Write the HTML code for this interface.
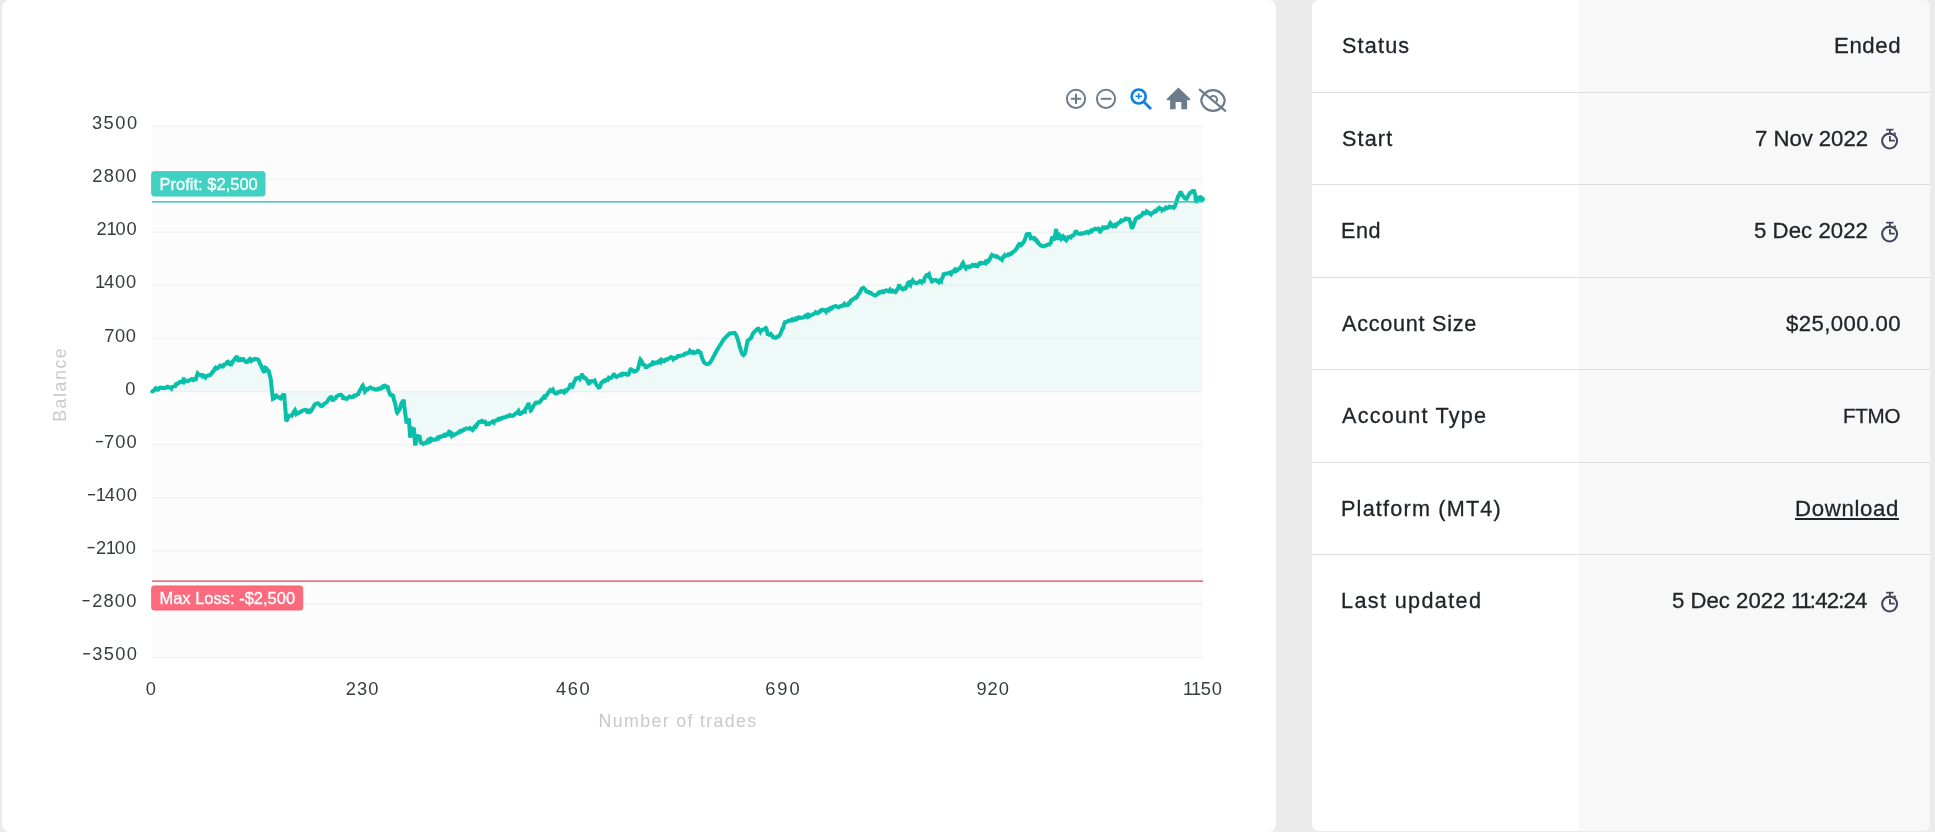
<!DOCTYPE html>
<html><head><meta charset="utf-8"><title>Account</title>
<style>
*{margin:0;padding:0;box-sizing:border-box}
html,body{width:1935px;height:832px;overflow:hidden}
body{background:#ebebeb;font-family:"Liberation Sans",sans-serif;position:relative}
.card1{position:absolute;left:2px;top:0;width:1274px;height:832px;background:#fff;border-radius:8px}
.card2{position:absolute;left:1312px;top:0;width:618px;height:831px;background:#fff;border-radius:7px;overflow:hidden}
.card2 .col{position:absolute;left:267px;top:0;width:351px;height:831px;background:#f8f8f8}
.card2 .div{position:absolute;left:0;width:618px;height:1px;background:#dedede}
.t{-webkit-text-stroke:0.3px #212529;will-change:transform;position:absolute;white-space:nowrap;line-height:1;color:#212529;font-size:21px}
.lab{left:1342px}
.val{right:35px;text-align:right}
.clk{position:absolute;left:1879px}
svg text{font-family:"Liberation Sans",sans-serif}
</style></head><body>
<div class="card1"></div>
<div class="card2"><div class="col"></div>
<div class="div" style="top:91.97px"></div>
<div class="div" style="top:184.42px"></div>
<div class="div" style="top:276.87px"></div>
<div class="div" style="top:369.32px"></div>
<div class="div" style="top:461.77px"></div>
<div class="div" style="top:554.22px"></div>
</div>
<div class="t" id="l0" style="font-size:21.6px;top:35.00px;left:1342.00px;letter-spacing:1.190px">Status</div>
<div class="t" id="v0" style="font-size:22.2px;top:34.70px;right:34.00px;letter-spacing:0.600px"><span>Ended</span></div>
<div class="t" id="l1" style="font-size:21.6px;top:128.00px;left:1342.00px;letter-spacing:1.150px">Start</div>
<div class="t" id="v1" style="font-size:22.2px;top:127.70px;right:67.00px;letter-spacing:-0.050px"><span>7 Nov 2022</span></div>
<svg class="clk" style="top:128.25px" width="22" height="24" viewBox="0 0 22 24"><g fill="none" stroke="#43465a" stroke-linecap="butt"><circle cx="10.6" cy="13.05" r="7.45" stroke-width="2.1"/><path d="M7.1 1.65h7.4" stroke-width="1.7"/><path d="M10.9 1.65v4M10.9 8v4.65h4.9" stroke-width="1.8"/><path d="M15.2 4.6l1.5 1.8" stroke-width="1.6"/></g></svg>
<div class="t" id="l2" style="font-size:21.6px;top:220.00px;left:1341.00px;letter-spacing:0.600px">End</div>
<div class="t" id="v2" style="font-size:22.2px;top:219.70px;right:67.00px;letter-spacing:0.050px"><span>5 Dec 2022</span></div>
<svg class="clk" style="top:221.00px" width="22" height="24" viewBox="0 0 22 24"><g fill="none" stroke="#43465a" stroke-linecap="butt"><circle cx="10.6" cy="13.05" r="7.45" stroke-width="2.1"/><path d="M7.1 1.65h7.4" stroke-width="1.7"/><path d="M10.9 1.65v4M10.9 8v4.65h4.9" stroke-width="1.8"/><path d="M15.2 4.6l1.5 1.8" stroke-width="1.6"/></g></svg>
<div class="t" id="l3" style="font-size:21.6px;top:313.00px;left:1342.00px;letter-spacing:0.759px">Account Size</div>
<div class="t" id="v3" style="font-size:22.2px;top:312.70px;right:34.00px;letter-spacing:0.383px"><span>$25,000.00</span></div>
<div class="t" id="l4" style="font-size:21.6px;top:405.00px;left:1342.00px;letter-spacing:1.241px">Account Type</div>
<div class="t" id="v4" style="font-size:20.6px;top:406.04px;right:35.00px;letter-spacing:-0.283px"><span>FTMO</span></div>
<div class="t" id="l5" style="font-size:21.6px;top:498.00px;left:1341.00px;letter-spacing:1.215px">Platform (MT4)</div>
<div class="t" id="v5" style="font-size:22.2px;top:497.70px;right:36.00px;letter-spacing:0.664px"><span style="text-decoration:underline">Download</span></div>
<div class="t" id="l6" style="font-size:21.6px;top:590.00px;left:1341.00px;letter-spacing:1.373px">Last updated</div>
<div class="t" id="v6a" style="font-size:22.2px;top:589.70px;right:150.00px;letter-spacing:-0.011px">5 Dec 2022</div>
<div class="t" id="v6b" style="font-size:22.2px;top:589.70px;right:68.00px;letter-spacing:-0.814px"><span style="letter-spacing:-2.114px">11</span>:42:24</div>
<svg class="clk" style="top:590.60px" width="22" height="24" viewBox="0 0 22 24"><g fill="none" stroke="#43465a" stroke-linecap="butt"><circle cx="10.6" cy="13.05" r="7.45" stroke-width="2.1"/><path d="M7.1 1.65h7.4" stroke-width="1.7"/><path d="M10.9 1.65v4M10.9 8v4.65h4.9" stroke-width="1.8"/><path d="M15.2 4.6l1.5 1.8" stroke-width="1.6"/></g></svg>
<svg style="position:absolute;left:0;top:0;will-change:transform" width="1300" height="832" viewBox="0 0 1300 832">
<rect x="152" y="126" width="1051" height="531.2" fill="#fcfcfc"/>
<rect x="152" y="125.3" width="1051" height="1.4" fill="#f2f2f2"/>
<rect x="152" y="178.4" width="1051" height="1.4" fill="#f2f2f2"/>
<rect x="152" y="231.5" width="1051" height="1.4" fill="#f2f2f2"/>
<rect x="152" y="284.7" width="1051" height="1.4" fill="#f2f2f2"/>
<rect x="152" y="337.8" width="1051" height="1.4" fill="#f2f2f2"/>
<rect x="152" y="390.9" width="1051" height="1.4" fill="#f2f2f2"/>
<rect x="152" y="444.0" width="1051" height="1.4" fill="#f2f2f2"/>
<rect x="152" y="497.1" width="1051" height="1.4" fill="#f2f2f2"/>
<rect x="152" y="550.3" width="1051" height="1.4" fill="#f2f2f2"/>
<rect x="152" y="603.4" width="1051" height="1.4" fill="#f2f2f2"/>
<rect x="152" y="656.5" width="1051" height="1.4" fill="#f2f2f2"/>
<path d="M152.2,391.5 L153.1,391.0 L154.0,390.4 L154.9,389.3 L155.8,388.2 L156.8,389.0 L157.7,389.8 L157.9,389.8 L158.6,389.1 L159.5,387.8 L160.1,387.6 L161.3,387.5 L162.2,388.2 L163.0,388.3 L164.1,387.9 L165.0,387.9 L165.9,387.5 L166.8,386.8 L167.3,386.7 L167.7,387.4 L168.6,387.5 L169.6,387.5 L170.5,387.4 L171.4,388.4 L171.6,388.0 L172.3,386.9 L173.2,386.6 L174.1,386.4 L174.5,386.3 L175.0,387.1 L175.9,384.2 L176.7,384.2 L177.8,383.4 L178.7,383.1 L179.6,381.9 L180.5,381.9 L181.0,381.8 L181.4,381.6 L182.3,382.1 L183.2,380.1 L184.2,381.3 L184.6,380.5 L185.1,381.3 L186.0,380.7 L186.9,380.9 L187.5,381.1 L188.7,380.6 L189.6,380.2 L190.6,379.8 L191.5,379.3 L191.8,379.1 L192.4,379.4 L193.3,380.1 L194.2,379.3 L195.1,379.9 L195.4,380.5 L196.0,378.7 L196.9,375.5 L197.6,373.5 L198.8,374.7 L199.7,374.8 L200.5,375.3 L201.5,375.2 L202.4,376.3 L203.3,375.5 L204.2,376.4 L205.2,377.3 L205.5,376.5 L206.1,376.7 L207.0,375.7 L207.9,375.7 L208.8,375.3 L209.7,375.2 L210.6,374.8 L211.6,373.5 L212.5,371.9 L213.4,371.5 L214.3,369.4 L215.2,368.0 L215.6,367.6 L216.1,368.2 L217.0,368.5 L217.8,368.0 L218.9,367.1 L219.8,366.0 L220.0,366.2 L220.7,365.9 L221.6,365.7 L222.5,367.5 L223.4,365.7 L223.6,365.1 L224.3,364.3 L225.2,364.2 L226.2,363.7 L227.1,362.1 L227.9,361.8 L228.9,363.5 L229.8,363.4 L230.1,363.8 L230.7,363.0 L231.6,363.7 L232.6,362.0 L232.9,361.4 L233.5,360.6 L234.4,359.5 L235.3,358.0 L236.2,357.5 L236.6,356.8 L237.1,356.0 L238.0,360.1 L238.9,360.2 L239.4,360.4 L239.9,360.3 L240.8,359.2 L241.7,359.9 L242.6,359.3 L243.5,359.2 L243.8,359.7 L244.4,360.4 L245.2,361.4 L246.2,361.9 L247.2,361.9 L248.1,361.5 L249.0,359.6 L249.9,359.0 L250.8,360.2 L251.0,359.7 L251.7,360.4 L252.6,359.8 L253.6,359.8 L254.5,358.9 L255.4,358.8 L256.0,359.0 L257.2,359.5 L258.1,359.5 L258.9,360.6 L259.9,363.7 L260.9,365.0 L261.8,367.8 L262.5,368.9 L263.6,371.5 L264.5,372.2 L264.7,372.5 L265.4,367.8 L266.3,368.3 L267.2,369.5 L268.2,370.0 L268.3,369.8 L269.1,372.3 L270.0,376.4 L270.5,377.5 L270.9,380.2 L271.8,389.0 L272.7,397.2 L272.9,398.8 L273.6,398.4 L274.6,397.9 L275.5,396.0 L276.2,395.5 L277.3,396.8 L278.2,397.0 L279.1,397.2 L280.0,398.3 L280.6,398.5 L281.9,396.5 L282.8,395.1 L283.7,394.6 L284.2,393.7 L284.6,400.2 L285.5,410.5 L286.3,421.3 L287.3,419.4 L288.3,417.2 L288.5,416.4 L289.2,415.8 L290.1,415.8 L291.0,415.4 L291.9,415.0 L292.1,415.2 L292.8,413.8 L293.7,412.0 L294.6,410.6 L295.0,410.1 L295.6,411.4 L296.4,414.0 L297.4,413.3 L298.3,413.1 L299.2,412.7 L300.1,411.9 L301.0,411.8 L301.9,411.0 L302.9,410.5 L303.8,410.1 L304.4,410.0 L305.6,409.9 L306.5,410.2 L307.4,411.9 L308.4,411.8 L309.3,410.8 L310.1,411.9 L311.1,411.0 L312.0,409.5 L312.9,407.8 L313.8,406.4 L314.7,404.6 L315.6,404.2 L316.6,403.1 L316.6,402.2 L317.5,403.3 L318.4,403.6 L319.3,404.3 L320.2,405.6 L321.1,405.6 L321.7,406.1 L323.0,405.4 L323.9,404.0 L324.8,403.4 L325.7,402.9 L326.6,402.3 L327.5,401.2 L328.4,399.7 L329.4,398.3 L330.3,397.7 L331.0,396.2 L332.1,398.4 L333.0,401.3 L333.2,400.2 L333.9,399.1 L334.8,398.6 L335.7,398.1 L336.6,396.3 L337.5,395.9 L338.5,395.4 L339.4,395.0 L340.3,394.7 L341.2,394.8 L342.1,395.8 L342.6,395.1 L343.0,398.0 L343.3,399.5 L344.0,398.3 L344.9,398.3 L345.8,398.4 L346.7,398.9 L347.6,397.9 L348.5,397.3 L349.4,396.6 L350.4,397.4 L351.3,397.2 L352.0,397.0 L353.1,396.8 L354.0,395.6 L354.9,396.0 L355.8,395.6 L356.7,394.8 L357.6,393.9 L357.7,395.2 L358.6,393.2 L359.5,391.0 L360.4,389.8 L361.3,388.1 L362.2,386.1 L362.8,385.4 L364.1,388.5 L364.9,391.5 L365.9,390.4 L366.8,389.2 L367.7,389.3 L368.6,388.5 L369.5,387.8 L370.0,387.6 L370.4,387.4 L371.4,388.4 L372.3,388.6 L373.2,388.8 L374.1,388.8 L375.0,389.5 L375.9,389.7 L376.8,389.6 L377.7,388.9 L378.7,389.3 L379.6,388.7 L380.5,388.0 L380.8,388.4 L381.4,388.4 L382.3,387.6 L383.2,386.3 L384.1,386.9 L385.1,385.8 L386.0,386.4 L386.6,386.4 L387.8,387.1 L388.7,391.0 L389.6,393.0 L390.2,394.7 L391.4,395.3 L392.4,395.1 L393.1,395.7 L394.2,400.9 L395.1,403.0 L395.2,403.1 L396.0,407.9 L396.9,412.3 L397.2,412.7 L397.8,411.8 L398.8,410.3 L399.7,409.3 L400.1,408.3 L400.6,405.8 L401.5,403.6 L401.5,403.2 L402.4,401.8 L403.3,400.8 L403.7,399.7 L404.2,405.3 L405.1,412.4 L406.1,419.3 L406.6,423.6 L407.0,421.9 L407.9,420.8 L408.8,418.3 L408.8,418.7 L409.7,431.1 L410.2,437.7 L410.6,435.3 L411.5,429.7 L411.6,428.6 L412.4,428.3 L413.4,428.4 L413.8,427.7 L414.3,433.4 L415.2,445.7 L415.2,445.3 L416.1,441.8 L417.0,437.4 L417.4,436.1 L417.9,436.1 L418.8,436.5 L419.6,436.7 L420.7,441.8 L421.0,443.9 L421.6,443.3 L422.5,443.2 L423.4,444.0 L424.3,443.4 L425.2,443.0 L425.3,442.9 L426.1,442.3 L427.1,442.6 L428.0,440.5 L428.9,441.2 L429.8,439.8 L430.7,441.0 L431.6,440.1 L431.8,439.2 L432.5,439.6 L433.4,439.5 L434.4,439.8 L435.3,439.8 L436.2,438.9 L436.2,439.9 L437.1,438.2 L438.0,438.7 L438.9,437.1 L439.8,436.7 L440.8,437.0 L441.7,436.3 L442.6,436.0 L443.5,435.3 L444.4,437.2 L445.3,434.9 L446.2,435.1 L447.0,434.2 L448.1,434.4 L449.0,431.7 L449.1,431.6 L449.9,432.0 L450.8,432.6 L451.7,435.5 L452.6,434.3 L453.5,435.2 L454.4,434.7 L455.4,434.3 L456.3,433.7 L457.2,433.4 L458.1,432.6 L459.0,432.6 L459.2,432.2 L459.9,431.1 L460.8,430.7 L461.8,431.3 L462.7,430.4 L463.6,430.2 L464.3,429.2 L465.4,428.9 L466.3,428.6 L467.2,428.6 L468.1,428.7 L469.1,428.6 L469.3,428.6 L470.0,428.1 L470.9,428.9 L471.8,429.5 L472.7,429.3 L472.9,429.6 L473.6,428.8 L474.5,426.8 L475.4,426.2 L476.4,425.1 L476.6,425.5 L477.3,424.2 L478.2,422.9 L479.1,421.8 L480.0,421.7 L480.2,420.8 L480.9,421.6 L481.8,420.9 L482.8,421.9 L483.7,421.8 L484.6,422.2 L485.2,421.9 L486.4,424.2 L487.3,423.9 L487.4,423.6 L488.2,423.5 L489.1,424.0 L490.1,423.1 L491.0,422.6 L491.9,422.2 L492.8,421.4 L493.7,422.3 L493.9,421.3 L494.6,421.2 L495.5,420.8 L496.4,420.4 L497.4,419.9 L498.3,419.0 L499.2,419.6 L500.1,418.8 L501.0,418.8 L501.1,418.3 L501.9,418.3 L502.8,417.7 L503.8,417.6 L504.7,417.2 L505.6,417.2 L506.5,416.4 L506.8,416.3 L507.4,416.4 L508.3,415.9 L509.2,416.0 L510.1,415.1 L511.1,415.8 L512.0,416.1 L512.6,415.8 L513.8,415.2 L514.7,414.5 L515.6,413.4 L516.5,412.9 L517.5,412.8 L517.7,412.0 L518.4,411.1 L519.3,413.6 L519.8,413.9 L520.2,413.9 L521.1,413.3 L522.0,412.9 L522.9,411.8 L523.8,411.3 L524.8,411.6 L524.9,410.4 L525.7,408.8 L526.6,407.2 L527.5,405.7 L528.4,403.1 L528.5,403.3 L529.3,406.6 L530.2,409.2 L530.7,410.6 L531.1,410.3 L532.1,408.4 L533.0,407.0 L533.9,405.0 L534.8,404.0 L535.7,402.7 L536.6,402.4 L537.5,402.4 L538.5,403.8 L538.6,402.6 L539.4,402.4 L540.3,401.5 L541.2,400.1 L542.1,399.2 L542.9,398.4 L543.9,396.9 L544.9,397.4 L545.8,394.7 L545.8,396.3 L546.7,395.2 L547.6,393.7 L548.5,392.2 L549.4,391.2 L550.3,390.0 L551.2,390.7 L552.1,391.1 L553.0,389.9 L554.0,392.2 L554.9,393.2 L555.8,394.3 L555.9,393.6 L556.7,393.6 L557.6,392.4 L558.5,392.5 L559.5,391.7 L560.4,391.8 L561.3,391.1 L561.7,391.0 L562.2,391.2 L563.1,391.5 L564.0,392.4 L564.9,391.1 L565.3,391.7 L565.9,391.5 L566.8,390.2 L567.7,389.3 L568.6,388.3 L568.9,388.0 L569.5,387.2 L570.4,384.6 L571.0,383.3 L571.8,388.1 L572.2,387.2 L573.1,385.0 L574.1,382.1 L575.0,380.5 L575.9,378.2 L576.1,377.2 L576.8,378.0 L577.7,378.0 L578.6,378.3 L579.5,378.7 L579.7,378.9 L580.5,376.6 L581.4,376.4 L581.9,375.0 L582.3,375.0 L583.2,376.3 L584.1,378.0 L585.0,378.0 L585.9,378.5 L586.2,379.1 L586.9,380.1 L587.8,381.8 L588.7,383.5 L589.1,383.5 L589.6,382.9 L590.5,381.2 L591.4,381.4 L592.3,381.0 L593.2,381.2 L594.2,381.7 L594.8,381.0 L596.0,383.6 L596.9,385.5 L597.8,386.2 L598.7,387.8 L599.2,388.5 L599.6,387.2 L600.5,385.5 L601.3,382.6 L602.4,382.1 L603.3,381.1 L604.2,380.5 L605.1,381.0 L606.0,379.9 L606.4,379.6 L606.9,379.5 L607.9,379.8 L608.8,377.7 L609.7,378.2 L610.6,377.9 L610.7,378.0 L611.5,377.7 L612.4,376.2 L613.3,375.5 L613.6,374.7 L614.2,374.5 L615.2,375.7 L616.1,376.8 L616.5,377.0 L617.0,376.6 L617.9,376.1 L618.8,375.5 L619.7,375.2 L620.6,374.6 L620.8,375.1 L621.5,375.3 L622.5,374.7 L623.4,373.7 L624.3,373.8 L625.2,374.0 L625.9,373.9 L627.0,374.9 L627.9,375.3 L628.0,375.6 L628.9,373.5 L629.8,370.9 L630.2,369.8 L630.7,369.4 L631.6,369.8 L632.5,370.6 L633.4,371.2 L633.8,371.4 L634.3,371.0 L635.0,371.5 L636.2,370.9 L637.1,370.2 L637.9,369.0 L638.9,365.3 L639.8,361.5 L640.4,359.6 L641.6,361.1 L642.5,363.6 L643.0,364.6 L643.5,364.6 L644.4,365.0 L645.3,366.1 L646.2,368.1 L646.6,367.2 L647.1,367.0 L648.0,366.5 L648.9,365.5 L649.9,365.2 L650.8,364.8 L651.6,364.1 L652.6,362.7 L653.5,363.6 L654.4,362.6 L655.3,363.0 L656.2,362.7 L657.2,363.0 L658.1,361.7 L658.9,361.9 L659.9,360.7 L660.8,361.9 L661.7,360.1 L662.6,360.9 L663.5,360.7 L664.5,361.0 L665.4,359.7 L666.3,359.4 L667.2,359.6 L667.5,359.6 L668.1,358.8 L669.0,358.5 L669.9,357.9 L670.9,357.0 L671.8,356.1 L671.8,356.2 L672.7,358.2 L673.3,359.3 L674.5,358.3 L675.4,358.0 L676.3,357.8 L677.2,356.9 L677.6,356.1 L678.2,356.0 L679.1,355.9 L680.0,356.0 L680.9,355.6 L681.8,355.4 L682.7,355.3 L683.4,355.3 L684.6,353.9 L685.5,353.4 L686.4,353.7 L687.3,353.3 L688.2,352.6 L689.1,352.5 L689.9,350.9 L691.0,352.3 L691.9,351.9 L692.8,352.7 L693.5,352.0 L694.6,352.7 L695.5,352.7 L696.4,352.1 L697.3,351.2 L698.2,351.7 L698.5,351.1 L699.2,351.4 L700.1,352.3 L700.7,352.9 L701.9,357.3 L702.1,358.0 L702.8,359.7 L703.6,361.6 L704.6,362.8 L705.3,363.5 L706.5,363.9 L707.2,364.1 L708.3,363.8 L709.1,363.5 L710.1,362.4 L710.8,361.6 L712.0,359.5 L712.9,357.8 L712.9,357.7 L713.8,356.1 L714.7,354.4 L715.6,352.7 L716.5,351.0 L716.6,350.8 L717.4,349.5 L718.3,348.0 L719.2,346.5 L720.2,345.0 L721.1,343.6 L722.0,342.1 L722.9,340.6 L723.8,339.2 L724.7,338.3 L725.6,337.3 L726.6,336.4 L727.5,335.5 L728.4,334.6 L729.3,333.7 L729.5,333.5 L730.2,333.4 L731.1,333.3 L732.0,333.2 L733.0,333.0 L733.9,332.9 L734.6,332.8 L735.7,334.4 L736.5,335.6 L737.5,338.7 L738.2,340.7 L739.3,345.1 L739.9,347.2 L740.3,348.4 L741.1,351.1 L742.1,353.7 L742.2,354.0 L743.0,354.7 L743.4,355.1 L743.9,354.7 L744.5,354.2 L745.6,351.1 L746.6,345.7 L747.6,340.9 L747.6,340.7 L748.5,340.0 L749.4,339.3 L750.3,338.5 L751.2,337.8 L752.1,335.6 L753.0,333.4 L753.3,332.8 L754.0,332.2 L754.9,331.4 L755.8,330.7 L756.7,329.4 L757.6,328.9 L758.4,328.6 L759.4,330.0 L760.3,331.5 L760.6,330.8 L761.3,330.8 L762.2,329.9 L763.1,329.6 L764.0,329.6 L764.9,328.6 L765.8,327.9 L766.3,328.5 L766.7,330.1 L767.6,334.0 L767.8,334.0 L768.6,334.3 L769.5,334.8 L770.4,334.2 L771.3,334.8 L771.4,334.6 L772.2,335.6 L773.1,337.2 L774.0,337.0 L775.0,337.3 L775.7,337.9 L776.8,337.3 L777.7,336.5 L778.6,336.4 L779.3,335.5 L780.4,333.8 L781.4,331.6 L782.3,328.6 L783.2,328.1 L784.1,324.1 L784.4,323.4 L785.0,322.1 L785.9,322.0 L786.8,321.8 L787.7,321.5 L788.6,320.3 L788.7,321.4 L789.6,320.4 L790.5,320.3 L791.4,320.5 L792.3,319.4 L793.2,320.2 L794.1,319.5 L795.0,319.7 L796.0,318.4 L796.9,319.0 L797.8,317.9 L798.7,317.4 L799.6,317.9 L800.2,317.6 L801.4,317.7 L802.4,317.8 L803.3,317.4 L804.2,317.1 L805.1,315.9 L806.0,316.3 L806.9,315.2 L807.8,316.5 L808.7,315.1 L809.6,316.0 L810.3,315.3 L811.5,315.0 L812.4,314.5 L813.3,314.2 L814.2,313.6 L815.1,313.0 L816.0,313.0 L816.1,312.4 L817.0,312.8 L817.9,313.0 L818.8,312.3 L819.7,311.9 L820.6,310.4 L821.5,310.6 L822.4,309.7 L823.3,310.0 L824.3,310.4 L825.2,310.1 L826.1,311.6 L826.2,311.4 L827.0,310.8 L827.9,309.7 L828.8,310.2 L829.1,309.3 L829.7,308.6 L830.7,308.0 L831.6,308.7 L832.5,307.9 L833.4,306.7 L834.3,306.5 L834.8,306.4 L835.2,306.1 L836.1,306.0 L837.0,306.6 L837.7,307.1 L838.9,307.4 L839.8,306.6 L840.7,305.9 L841.6,305.9 L842.5,305.9 L843.4,304.7 L844.4,303.7 L844.9,304.3 L845.3,304.7 L846.2,305.2 L847.1,306.1 L847.1,306.0 L848.0,304.8 L848.9,303.1 L849.8,303.1 L850.7,300.6 L851.7,300.5 L852.6,299.6 L852.9,299.2 L853.5,298.8 L854.4,298.5 L855.3,297.5 L856.2,297.7 L857.1,296.6 L857.2,296.6 L858.0,295.1 L859.0,293.4 L859.9,292.6 L860.8,290.1 L861.5,288.8 L862.6,288.1 L863.5,287.9 L863.7,288.1 L864.4,288.7 L865.4,289.7 L866.3,291.5 L866.6,291.5 L867.2,291.8 L868.1,292.3 L869.0,292.0 L869.9,292.8 L870.8,292.9 L870.9,293.2 L871.8,293.8 L872.7,294.4 L873.6,294.9 L874.5,295.2 L875.2,295.5 L876.3,294.8 L877.2,294.1 L878.1,293.8 L879.0,292.3 L880.0,292.5 L880.1,292.1 L880.9,292.0 L881.8,291.7 L882.7,291.2 L883.6,292.2 L884.5,291.6 L885.4,290.8 L886.4,290.3 L887.3,291.0 L887.3,290.9 L888.2,291.2 L889.1,291.3 L890.0,289.9 L890.9,291.3 L891.8,291.6 L892.8,290.6 L893.7,291.3 L894.6,291.6 L895.5,292.2 L896.0,291.6 L896.4,291.0 L897.3,288.9 L898.2,288.5 L899.1,284.5 L899.6,285.9 L900.0,286.7 L901.0,289.0 L901.0,289.4 L901.9,288.5 L902.8,289.3 L903.7,288.9 L904.6,288.1 L905.3,288.6 L906.5,287.2 L907.4,284.5 L908.3,282.5 L908.9,282.3 L910.1,284.6 L910.4,285.0 L911.0,283.1 L911.9,281.4 L912.6,280.4 L913.8,282.4 L914.7,283.1 L914.7,283.7 L915.6,282.9 L916.5,283.3 L917.4,282.7 L918.3,282.6 L919.2,281.7 L920.1,281.8 L921.1,282.3 L921.2,281.2 L922.0,281.5 L922.9,281.8 L923.4,282.6 L923.8,281.5 L924.7,277.6 L924.8,277.4 L925.6,276.6 L926.5,275.4 L927.5,275.9 L928.4,274.5 L928.9,274.1 L929.3,275.7 L930.2,278.1 L931.1,279.4 L932.0,281.6 L932.9,281.3 L933.8,280.6 L934.8,279.4 L934.9,280.0 L935.7,279.9 L936.6,280.7 L937.5,281.4 L938.4,280.9 L939.2,282.1 L940.2,280.8 L941.1,281.4 L941.4,279.2 L942.1,278.6 L943.0,276.4 L943.6,274.2 L944.8,273.9 L945.7,273.6 L946.6,273.7 L947.5,273.6 L948.5,273.5 L949.4,272.5 L950.3,272.5 L951.2,273.9 L952.1,272.6 L952.2,271.8 L953.0,271.1 L953.9,271.0 L954.8,269.7 L955.8,270.9 L956.7,269.7 L957.6,270.0 L958.5,269.1 L959.4,268.3 L960.2,268.3 L961.2,266.6 L962.1,264.2 L963.0,262.9 L964.0,265.0 L964.9,267.0 L965.2,267.5 L965.8,268.3 L966.7,266.7 L967.6,266.9 L968.5,266.5 L969.5,267.2 L970.4,266.6 L971.3,266.0 L972.2,265.1 L973.1,265.7 L973.9,265.4 L974.9,264.9 L975.8,266.0 L976.8,266.2 L977.5,266.2 L978.6,263.1 L978.9,263.6 L979.5,263.2 L980.4,263.8 L981.3,262.9 L982.2,263.2 L983.1,262.9 L984.1,262.8 L985.0,263.1 L985.4,262.3 L985.9,263.0 L986.8,261.6 L987.7,261.4 L988.6,259.4 L989.0,260.4 L989.5,259.7 L990.5,257.4 L991.4,255.9 L991.9,255.2 L992.3,255.6 L993.2,255.5 L994.1,255.7 L994.8,255.8 L995.9,256.8 L996.9,256.4 L997.8,257.2 L998.7,257.5 L999.6,258.3 L1000.5,258.8 L1001.4,259.0 L1002.0,259.7 L1003.2,257.2 L1004.1,256.0 L1004.2,256.3 L1005.1,256.0 L1006.0,255.9 L1006.9,255.3 L1007.8,254.6 L1008.7,254.9 L1009.6,254.1 L1010.5,254.2 L1011.5,253.1 L1012.1,253.2 L1013.3,251.7 L1014.2,251.1 L1015.1,250.6 L1016.0,249.1 L1016.4,248.9 L1016.9,248.2 L1017.9,245.8 L1018.8,245.5 L1019.3,244.2 L1019.7,244.3 L1020.6,245.5 L1020.8,245.5 L1021.5,243.9 L1022.4,243.8 L1023.3,242.2 L1024.2,241.4 L1024.4,240.6 L1025.2,238.8 L1026.1,236.0 L1026.5,234.5 L1027.0,234.2 L1027.9,234.4 L1028.8,234.0 L1029.4,234.0 L1030.6,237.3 L1030.8,238.3 L1031.5,238.1 L1032.5,238.0 L1033.4,238.7 L1033.7,238.0 L1034.3,237.9 L1035.2,239.1 L1036.1,240.2 L1037.0,241.6 L1037.3,241.2 L1037.9,242.1 L1038.8,243.6 L1039.8,244.6 L1040.7,245.7 L1040.9,246.7 L1041.6,245.8 L1042.5,246.2 L1043.4,246.4 L1044.3,245.9 L1045.2,245.8 L1046.2,245.3 L1047.1,244.9 L1048.0,244.6 L1048.9,244.6 L1048.9,244.5 L1049.8,243.6 L1050.7,242.8 L1051.0,241.8 L1051.6,239.2 L1052.5,236.6 L1053.5,239.4 L1053.9,240.4 L1054.4,237.4 L1055.3,234.1 L1056.1,228.9 L1057.1,236.9 L1057.5,240.1 L1058.0,235.5 L1058.3,232.7 L1058.9,234.8 L1059.8,235.9 L1060.4,237.9 L1060.8,238.5 L1061.7,236.7 L1062.6,236.1 L1063.5,237.9 L1064.0,237.5 L1064.4,237.4 L1065.3,239.6 L1066.2,240.4 L1067.2,239.1 L1068.1,238.0 L1069.0,235.9 L1069.1,237.3 L1069.9,237.0 L1070.8,237.4 L1071.7,236.0 L1072.6,236.2 L1072.7,236.5 L1073.5,235.3 L1074.5,233.7 L1075.4,232.0 L1076.0,230.6 L1077.2,233.0 L1078.1,233.4 L1078.5,234.8 L1079.0,234.1 L1079.9,234.1 L1080.8,233.5 L1081.8,233.8 L1082.7,233.2 L1083.6,233.3 L1084.5,233.1 L1084.9,232.7 L1085.4,232.8 L1086.3,232.3 L1087.2,232.5 L1088.2,230.7 L1088.7,232.0 L1089.1,232.6 L1090.0,231.8 L1090.9,230.7 L1091.8,231.3 L1092.7,230.1 L1093.6,229.6 L1094.5,229.1 L1095.5,228.7 L1096.4,229.2 L1097.3,229.2 L1097.3,227.5 L1098.2,228.6 L1099.1,229.7 L1100.0,231.7 L1100.2,231.7 L1100.9,230.6 L1101.9,229.1 L1102.4,228.0 L1102.8,227.6 L1103.7,228.4 L1104.6,228.2 L1105.5,227.3 L1106.4,227.7 L1107.3,227.3 L1108.1,227.2 L1109.2,225.6 L1110.1,223.3 L1110.3,223.0 L1111.0,223.8 L1111.7,225.8 L1112.8,226.4 L1113.7,226.0 L1114.6,225.1 L1115.5,226.0 L1116.1,224.9 L1116.5,225.1 L1117.4,224.1 L1118.3,223.0 L1119.2,222.6 L1120.1,222.3 L1121.0,220.6 L1121.8,221.1 L1122.9,220.5 L1123.8,220.1 L1124.7,219.6 L1125.6,218.6 L1126.5,218.9 L1127.4,218.7 L1127.6,218.7 L1128.3,219.3 L1129.2,219.2 L1129.8,220.7 L1130.2,221.9 L1131.1,225.4 L1131.9,228.7 L1132.9,226.3 L1133.8,224.2 L1134.7,221.7 L1135.5,219.1 L1136.5,218.1 L1137.5,217.5 L1138.4,217.7 L1139.3,216.4 L1140.2,216.5 L1141.1,215.8 L1142.0,214.9 L1143.0,213.0 L1143.9,213.3 L1144.8,214.4 L1144.9,214.0 L1145.7,213.5 L1146.6,211.4 L1147.5,211.9 L1147.8,212.1 L1148.4,212.7 L1149.3,213.3 L1150.2,214.0 L1150.7,214.4 L1151.2,213.3 L1152.1,213.3 L1153.0,212.7 L1153.9,212.0 L1154.8,211.0 L1155.7,211.6 L1156.6,210.8 L1157.6,209.2 L1158.5,209.1 L1159.3,207.9 L1160.3,208.4 L1161.2,209.1 L1162.1,209.6 L1162.2,210.0 L1163.0,209.3 L1164.0,209.5 L1164.9,208.7 L1165.8,207.6 L1166.7,208.4 L1167.6,208.0 L1168.5,207.5 L1169.4,206.7 L1170.3,207.3 L1170.9,206.9 L1172.2,207.2 L1173.1,206.9 L1174.0,207.6 L1174.5,206.8 L1174.9,206.1 L1175.8,203.6 L1176.7,200.9 L1177.7,197.7 L1178.1,196.4 L1178.6,196.1 L1179.5,194.0 L1180.4,192.3 L1180.7,191.7 L1181.3,193.0 L1182.2,194.4 L1183.1,196.2 L1184.0,197.1 L1185.0,198.4 L1185.9,199.2 L1186.0,200.1 L1186.8,198.2 L1187.7,196.5 L1188.6,195.2 L1189.5,193.9 L1189.6,193.1 L1190.4,192.5 L1191.3,192.3 L1192.3,191.2 L1193.2,190.4 L1193.5,189.7 L1194.1,191.2 L1195.0,194.4 L1195.4,196.1 L1195.9,201.2 L1196.1,202.8 L1196.8,201.1 L1197.7,200.4 L1198.7,197.8 L1199.6,196.9 L1199.7,196.1 L1200.5,197.3 L1201.4,197.9 L1202.3,198.8 L1202.3,391.7 L152.2,391.7 Z" fill="#08bfa9" fill-opacity="0.05"/>
<path d="M152.2,391.5 L153.1,391.0 L154.0,390.4 L154.9,389.3 L155.8,388.2 L156.8,389.0 L157.7,389.8 L157.9,389.8 L158.6,389.1 L159.5,387.8 L160.1,387.6 L161.3,387.5 L162.2,388.2 L163.0,388.3 L164.1,387.9 L165.0,387.9 L165.9,387.5 L166.8,386.8 L167.3,386.7 L167.7,387.4 L168.6,387.5 L169.6,387.5 L170.5,387.4 L171.4,388.4 L171.6,388.0 L172.3,386.9 L173.2,386.6 L174.1,386.4 L174.5,386.3 L175.0,387.1 L175.9,384.2 L176.7,384.2 L177.8,383.4 L178.7,383.1 L179.6,381.9 L180.5,381.9 L181.0,381.8 L181.4,381.6 L182.3,382.1 L183.2,380.1 L184.2,381.3 L184.6,380.5 L185.1,381.3 L186.0,380.7 L186.9,380.9 L187.5,381.1 L188.7,380.6 L189.6,380.2 L190.6,379.8 L191.5,379.3 L191.8,379.1 L192.4,379.4 L193.3,380.1 L194.2,379.3 L195.1,379.9 L195.4,380.5 L196.0,378.7 L196.9,375.5 L197.6,373.5 L198.8,374.7 L199.7,374.8 L200.5,375.3 L201.5,375.2 L202.4,376.3 L203.3,375.5 L204.2,376.4 L205.2,377.3 L205.5,376.5 L206.1,376.7 L207.0,375.7 L207.9,375.7 L208.8,375.3 L209.7,375.2 L210.6,374.8 L211.6,373.5 L212.5,371.9 L213.4,371.5 L214.3,369.4 L215.2,368.0 L215.6,367.6 L216.1,368.2 L217.0,368.5 L217.8,368.0 L218.9,367.1 L219.8,366.0 L220.0,366.2 L220.7,365.9 L221.6,365.7 L222.5,367.5 L223.4,365.7 L223.6,365.1 L224.3,364.3 L225.2,364.2 L226.2,363.7 L227.1,362.1 L227.9,361.8 L228.9,363.5 L229.8,363.4 L230.1,363.8 L230.7,363.0 L231.6,363.7 L232.6,362.0 L232.9,361.4 L233.5,360.6 L234.4,359.5 L235.3,358.0 L236.2,357.5 L236.6,356.8 L237.1,356.0 L238.0,360.1 L238.9,360.2 L239.4,360.4 L239.9,360.3 L240.8,359.2 L241.7,359.9 L242.6,359.3 L243.5,359.2 L243.8,359.7 L244.4,360.4 L245.2,361.4 L246.2,361.9 L247.2,361.9 L248.1,361.5 L249.0,359.6 L249.9,359.0 L250.8,360.2 L251.0,359.7 L251.7,360.4 L252.6,359.8 L253.6,359.8 L254.5,358.9 L255.4,358.8 L256.0,359.0 L257.2,359.5 L258.1,359.5 L258.9,360.6 L259.9,363.7 L260.9,365.0 L261.8,367.8 L262.5,368.9 L263.6,371.5 L264.5,372.2 L264.7,372.5 L265.4,367.8 L266.3,368.3 L267.2,369.5 L268.2,370.0 L268.3,369.8 L269.1,372.3 L270.0,376.4 L270.5,377.5 L270.9,380.2 L271.8,389.0 L272.7,397.2 L272.9,398.8 L273.6,398.4 L274.6,397.9 L275.5,396.0 L276.2,395.5 L277.3,396.8 L278.2,397.0 L279.1,397.2 L280.0,398.3 L280.6,398.5 L281.9,396.5 L282.8,395.1 L283.7,394.6 L284.2,393.7 L284.6,400.2 L285.5,410.5 L286.3,421.3 L287.3,419.4 L288.3,417.2 L288.5,416.4 L289.2,415.8 L290.1,415.8 L291.0,415.4 L291.9,415.0 L292.1,415.2 L292.8,413.8 L293.7,412.0 L294.6,410.6 L295.0,410.1 L295.6,411.4 L296.4,414.0 L297.4,413.3 L298.3,413.1 L299.2,412.7 L300.1,411.9 L301.0,411.8 L301.9,411.0 L302.9,410.5 L303.8,410.1 L304.4,410.0 L305.6,409.9 L306.5,410.2 L307.4,411.9 L308.4,411.8 L309.3,410.8 L310.1,411.9 L311.1,411.0 L312.0,409.5 L312.9,407.8 L313.8,406.4 L314.7,404.6 L315.6,404.2 L316.6,403.1 L316.6,402.2 L317.5,403.3 L318.4,403.6 L319.3,404.3 L320.2,405.6 L321.1,405.6 L321.7,406.1 L323.0,405.4 L323.9,404.0 L324.8,403.4 L325.7,402.9 L326.6,402.3 L327.5,401.2 L328.4,399.7 L329.4,398.3 L330.3,397.7 L331.0,396.2 L332.1,398.4 L333.0,401.3 L333.2,400.2 L333.9,399.1 L334.8,398.6 L335.7,398.1 L336.6,396.3 L337.5,395.9 L338.5,395.4 L339.4,395.0 L340.3,394.7 L341.2,394.8 L342.1,395.8 L342.6,395.1 L343.0,398.0 L343.3,399.5 L344.0,398.3 L344.9,398.3 L345.8,398.4 L346.7,398.9 L347.6,397.9 L348.5,397.3 L349.4,396.6 L350.4,397.4 L351.3,397.2 L352.0,397.0 L353.1,396.8 L354.0,395.6 L354.9,396.0 L355.8,395.6 L356.7,394.8 L357.6,393.9 L357.7,395.2 L358.6,393.2 L359.5,391.0 L360.4,389.8 L361.3,388.1 L362.2,386.1 L362.8,385.4 L364.1,388.5 L364.9,391.5 L365.9,390.4 L366.8,389.2 L367.7,389.3 L368.6,388.5 L369.5,387.8 L370.0,387.6 L370.4,387.4 L371.4,388.4 L372.3,388.6 L373.2,388.8 L374.1,388.8 L375.0,389.5 L375.9,389.7 L376.8,389.6 L377.7,388.9 L378.7,389.3 L379.6,388.7 L380.5,388.0 L380.8,388.4 L381.4,388.4 L382.3,387.6 L383.2,386.3 L384.1,386.9 L385.1,385.8 L386.0,386.4 L386.6,386.4 L387.8,387.1 L388.7,391.0 L389.6,393.0 L390.2,394.7 L391.4,395.3 L392.4,395.1 L393.1,395.7 L394.2,400.9 L395.1,403.0 L395.2,403.1 L396.0,407.9 L396.9,412.3 L397.2,412.7 L397.8,411.8 L398.8,410.3 L399.7,409.3 L400.1,408.3 L400.6,405.8 L401.5,403.6 L401.5,403.2 L402.4,401.8 L403.3,400.8 L403.7,399.7 L404.2,405.3 L405.1,412.4 L406.1,419.3 L406.6,423.6 L407.0,421.9 L407.9,420.8 L408.8,418.3 L408.8,418.7 L409.7,431.1 L410.2,437.7 L410.6,435.3 L411.5,429.7 L411.6,428.6 L412.4,428.3 L413.4,428.4 L413.8,427.7 L414.3,433.4 L415.2,445.7 L415.2,445.3 L416.1,441.8 L417.0,437.4 L417.4,436.1 L417.9,436.1 L418.8,436.5 L419.6,436.7 L420.7,441.8 L421.0,443.9 L421.6,443.3 L422.5,443.2 L423.4,444.0 L424.3,443.4 L425.2,443.0 L425.3,442.9 L426.1,442.3 L427.1,442.6 L428.0,440.5 L428.9,441.2 L429.8,439.8 L430.7,441.0 L431.6,440.1 L431.8,439.2 L432.5,439.6 L433.4,439.5 L434.4,439.8 L435.3,439.8 L436.2,438.9 L436.2,439.9 L437.1,438.2 L438.0,438.7 L438.9,437.1 L439.8,436.7 L440.8,437.0 L441.7,436.3 L442.6,436.0 L443.5,435.3 L444.4,437.2 L445.3,434.9 L446.2,435.1 L447.0,434.2 L448.1,434.4 L449.0,431.7 L449.1,431.6 L449.9,432.0 L450.8,432.6 L451.7,435.5 L452.6,434.3 L453.5,435.2 L454.4,434.7 L455.4,434.3 L456.3,433.7 L457.2,433.4 L458.1,432.6 L459.0,432.6 L459.2,432.2 L459.9,431.1 L460.8,430.7 L461.8,431.3 L462.7,430.4 L463.6,430.2 L464.3,429.2 L465.4,428.9 L466.3,428.6 L467.2,428.6 L468.1,428.7 L469.1,428.6 L469.3,428.6 L470.0,428.1 L470.9,428.9 L471.8,429.5 L472.7,429.3 L472.9,429.6 L473.6,428.8 L474.5,426.8 L475.4,426.2 L476.4,425.1 L476.6,425.5 L477.3,424.2 L478.2,422.9 L479.1,421.8 L480.0,421.7 L480.2,420.8 L480.9,421.6 L481.8,420.9 L482.8,421.9 L483.7,421.8 L484.6,422.2 L485.2,421.9 L486.4,424.2 L487.3,423.9 L487.4,423.6 L488.2,423.5 L489.1,424.0 L490.1,423.1 L491.0,422.6 L491.9,422.2 L492.8,421.4 L493.7,422.3 L493.9,421.3 L494.6,421.2 L495.5,420.8 L496.4,420.4 L497.4,419.9 L498.3,419.0 L499.2,419.6 L500.1,418.8 L501.0,418.8 L501.1,418.3 L501.9,418.3 L502.8,417.7 L503.8,417.6 L504.7,417.2 L505.6,417.2 L506.5,416.4 L506.8,416.3 L507.4,416.4 L508.3,415.9 L509.2,416.0 L510.1,415.1 L511.1,415.8 L512.0,416.1 L512.6,415.8 L513.8,415.2 L514.7,414.5 L515.6,413.4 L516.5,412.9 L517.5,412.8 L517.7,412.0 L518.4,411.1 L519.3,413.6 L519.8,413.9 L520.2,413.9 L521.1,413.3 L522.0,412.9 L522.9,411.8 L523.8,411.3 L524.8,411.6 L524.9,410.4 L525.7,408.8 L526.6,407.2 L527.5,405.7 L528.4,403.1 L528.5,403.3 L529.3,406.6 L530.2,409.2 L530.7,410.6 L531.1,410.3 L532.1,408.4 L533.0,407.0 L533.9,405.0 L534.8,404.0 L535.7,402.7 L536.6,402.4 L537.5,402.4 L538.5,403.8 L538.6,402.6 L539.4,402.4 L540.3,401.5 L541.2,400.1 L542.1,399.2 L542.9,398.4 L543.9,396.9 L544.9,397.4 L545.8,394.7 L545.8,396.3 L546.7,395.2 L547.6,393.7 L548.5,392.2 L549.4,391.2 L550.3,390.0 L551.2,390.7 L552.1,391.1 L553.0,389.9 L554.0,392.2 L554.9,393.2 L555.8,394.3 L555.9,393.6 L556.7,393.6 L557.6,392.4 L558.5,392.5 L559.5,391.7 L560.4,391.8 L561.3,391.1 L561.7,391.0 L562.2,391.2 L563.1,391.5 L564.0,392.4 L564.9,391.1 L565.3,391.7 L565.9,391.5 L566.8,390.2 L567.7,389.3 L568.6,388.3 L568.9,388.0 L569.5,387.2 L570.4,384.6 L571.0,383.3 L571.8,388.1 L572.2,387.2 L573.1,385.0 L574.1,382.1 L575.0,380.5 L575.9,378.2 L576.1,377.2 L576.8,378.0 L577.7,378.0 L578.6,378.3 L579.5,378.7 L579.7,378.9 L580.5,376.6 L581.4,376.4 L581.9,375.0 L582.3,375.0 L583.2,376.3 L584.1,378.0 L585.0,378.0 L585.9,378.5 L586.2,379.1 L586.9,380.1 L587.8,381.8 L588.7,383.5 L589.1,383.5 L589.6,382.9 L590.5,381.2 L591.4,381.4 L592.3,381.0 L593.2,381.2 L594.2,381.7 L594.8,381.0 L596.0,383.6 L596.9,385.5 L597.8,386.2 L598.7,387.8 L599.2,388.5 L599.6,387.2 L600.5,385.5 L601.3,382.6 L602.4,382.1 L603.3,381.1 L604.2,380.5 L605.1,381.0 L606.0,379.9 L606.4,379.6 L606.9,379.5 L607.9,379.8 L608.8,377.7 L609.7,378.2 L610.6,377.9 L610.7,378.0 L611.5,377.7 L612.4,376.2 L613.3,375.5 L613.6,374.7 L614.2,374.5 L615.2,375.7 L616.1,376.8 L616.5,377.0 L617.0,376.6 L617.9,376.1 L618.8,375.5 L619.7,375.2 L620.6,374.6 L620.8,375.1 L621.5,375.3 L622.5,374.7 L623.4,373.7 L624.3,373.8 L625.2,374.0 L625.9,373.9 L627.0,374.9 L627.9,375.3 L628.0,375.6 L628.9,373.5 L629.8,370.9 L630.2,369.8 L630.7,369.4 L631.6,369.8 L632.5,370.6 L633.4,371.2 L633.8,371.4 L634.3,371.0 L635.0,371.5 L636.2,370.9 L637.1,370.2 L637.9,369.0 L638.9,365.3 L639.8,361.5 L640.4,359.6 L641.6,361.1 L642.5,363.6 L643.0,364.6 L643.5,364.6 L644.4,365.0 L645.3,366.1 L646.2,368.1 L646.6,367.2 L647.1,367.0 L648.0,366.5 L648.9,365.5 L649.9,365.2 L650.8,364.8 L651.6,364.1 L652.6,362.7 L653.5,363.6 L654.4,362.6 L655.3,363.0 L656.2,362.7 L657.2,363.0 L658.1,361.7 L658.9,361.9 L659.9,360.7 L660.8,361.9 L661.7,360.1 L662.6,360.9 L663.5,360.7 L664.5,361.0 L665.4,359.7 L666.3,359.4 L667.2,359.6 L667.5,359.6 L668.1,358.8 L669.0,358.5 L669.9,357.9 L670.9,357.0 L671.8,356.1 L671.8,356.2 L672.7,358.2 L673.3,359.3 L674.5,358.3 L675.4,358.0 L676.3,357.8 L677.2,356.9 L677.6,356.1 L678.2,356.0 L679.1,355.9 L680.0,356.0 L680.9,355.6 L681.8,355.4 L682.7,355.3 L683.4,355.3 L684.6,353.9 L685.5,353.4 L686.4,353.7 L687.3,353.3 L688.2,352.6 L689.1,352.5 L689.9,350.9 L691.0,352.3 L691.9,351.9 L692.8,352.7 L693.5,352.0 L694.6,352.7 L695.5,352.7 L696.4,352.1 L697.3,351.2 L698.2,351.7 L698.5,351.1 L699.2,351.4 L700.1,352.3 L700.7,352.9 L701.9,357.3 L702.1,358.0 L702.8,359.7 L703.6,361.6 L704.6,362.8 L705.3,363.5 L706.5,363.9 L707.2,364.1 L708.3,363.8 L709.1,363.5 L710.1,362.4 L710.8,361.6 L712.0,359.5 L712.9,357.8 L712.9,357.7 L713.8,356.1 L714.7,354.4 L715.6,352.7 L716.5,351.0 L716.6,350.8 L717.4,349.5 L718.3,348.0 L719.2,346.5 L720.2,345.0 L721.1,343.6 L722.0,342.1 L722.9,340.6 L723.8,339.2 L724.7,338.3 L725.6,337.3 L726.6,336.4 L727.5,335.5 L728.4,334.6 L729.3,333.7 L729.5,333.5 L730.2,333.4 L731.1,333.3 L732.0,333.2 L733.0,333.0 L733.9,332.9 L734.6,332.8 L735.7,334.4 L736.5,335.6 L737.5,338.7 L738.2,340.7 L739.3,345.1 L739.9,347.2 L740.3,348.4 L741.1,351.1 L742.1,353.7 L742.2,354.0 L743.0,354.7 L743.4,355.1 L743.9,354.7 L744.5,354.2 L745.6,351.1 L746.6,345.7 L747.6,340.9 L747.6,340.7 L748.5,340.0 L749.4,339.3 L750.3,338.5 L751.2,337.8 L752.1,335.6 L753.0,333.4 L753.3,332.8 L754.0,332.2 L754.9,331.4 L755.8,330.7 L756.7,329.4 L757.6,328.9 L758.4,328.6 L759.4,330.0 L760.3,331.5 L760.6,330.8 L761.3,330.8 L762.2,329.9 L763.1,329.6 L764.0,329.6 L764.9,328.6 L765.8,327.9 L766.3,328.5 L766.7,330.1 L767.6,334.0 L767.8,334.0 L768.6,334.3 L769.5,334.8 L770.4,334.2 L771.3,334.8 L771.4,334.6 L772.2,335.6 L773.1,337.2 L774.0,337.0 L775.0,337.3 L775.7,337.9 L776.8,337.3 L777.7,336.5 L778.6,336.4 L779.3,335.5 L780.4,333.8 L781.4,331.6 L782.3,328.6 L783.2,328.1 L784.1,324.1 L784.4,323.4 L785.0,322.1 L785.9,322.0 L786.8,321.8 L787.7,321.5 L788.6,320.3 L788.7,321.4 L789.6,320.4 L790.5,320.3 L791.4,320.5 L792.3,319.4 L793.2,320.2 L794.1,319.5 L795.0,319.7 L796.0,318.4 L796.9,319.0 L797.8,317.9 L798.7,317.4 L799.6,317.9 L800.2,317.6 L801.4,317.7 L802.4,317.8 L803.3,317.4 L804.2,317.1 L805.1,315.9 L806.0,316.3 L806.9,315.2 L807.8,316.5 L808.7,315.1 L809.6,316.0 L810.3,315.3 L811.5,315.0 L812.4,314.5 L813.3,314.2 L814.2,313.6 L815.1,313.0 L816.0,313.0 L816.1,312.4 L817.0,312.8 L817.9,313.0 L818.8,312.3 L819.7,311.9 L820.6,310.4 L821.5,310.6 L822.4,309.7 L823.3,310.0 L824.3,310.4 L825.2,310.1 L826.1,311.6 L826.2,311.4 L827.0,310.8 L827.9,309.7 L828.8,310.2 L829.1,309.3 L829.7,308.6 L830.7,308.0 L831.6,308.7 L832.5,307.9 L833.4,306.7 L834.3,306.5 L834.8,306.4 L835.2,306.1 L836.1,306.0 L837.0,306.6 L837.7,307.1 L838.9,307.4 L839.8,306.6 L840.7,305.9 L841.6,305.9 L842.5,305.9 L843.4,304.7 L844.4,303.7 L844.9,304.3 L845.3,304.7 L846.2,305.2 L847.1,306.1 L847.1,306.0 L848.0,304.8 L848.9,303.1 L849.8,303.1 L850.7,300.6 L851.7,300.5 L852.6,299.6 L852.9,299.2 L853.5,298.8 L854.4,298.5 L855.3,297.5 L856.2,297.7 L857.1,296.6 L857.2,296.6 L858.0,295.1 L859.0,293.4 L859.9,292.6 L860.8,290.1 L861.5,288.8 L862.6,288.1 L863.5,287.9 L863.7,288.1 L864.4,288.7 L865.4,289.7 L866.3,291.5 L866.6,291.5 L867.2,291.8 L868.1,292.3 L869.0,292.0 L869.9,292.8 L870.8,292.9 L870.9,293.2 L871.8,293.8 L872.7,294.4 L873.6,294.9 L874.5,295.2 L875.2,295.5 L876.3,294.8 L877.2,294.1 L878.1,293.8 L879.0,292.3 L880.0,292.5 L880.1,292.1 L880.9,292.0 L881.8,291.7 L882.7,291.2 L883.6,292.2 L884.5,291.6 L885.4,290.8 L886.4,290.3 L887.3,291.0 L887.3,290.9 L888.2,291.2 L889.1,291.3 L890.0,289.9 L890.9,291.3 L891.8,291.6 L892.8,290.6 L893.7,291.3 L894.6,291.6 L895.5,292.2 L896.0,291.6 L896.4,291.0 L897.3,288.9 L898.2,288.5 L899.1,284.5 L899.6,285.9 L900.0,286.7 L901.0,289.0 L901.0,289.4 L901.9,288.5 L902.8,289.3 L903.7,288.9 L904.6,288.1 L905.3,288.6 L906.5,287.2 L907.4,284.5 L908.3,282.5 L908.9,282.3 L910.1,284.6 L910.4,285.0 L911.0,283.1 L911.9,281.4 L912.6,280.4 L913.8,282.4 L914.7,283.1 L914.7,283.7 L915.6,282.9 L916.5,283.3 L917.4,282.7 L918.3,282.6 L919.2,281.7 L920.1,281.8 L921.1,282.3 L921.2,281.2 L922.0,281.5 L922.9,281.8 L923.4,282.6 L923.8,281.5 L924.7,277.6 L924.8,277.4 L925.6,276.6 L926.5,275.4 L927.5,275.9 L928.4,274.5 L928.9,274.1 L929.3,275.7 L930.2,278.1 L931.1,279.4 L932.0,281.6 L932.9,281.3 L933.8,280.6 L934.8,279.4 L934.9,280.0 L935.7,279.9 L936.6,280.7 L937.5,281.4 L938.4,280.9 L939.2,282.1 L940.2,280.8 L941.1,281.4 L941.4,279.2 L942.1,278.6 L943.0,276.4 L943.6,274.2 L944.8,273.9 L945.7,273.6 L946.6,273.7 L947.5,273.6 L948.5,273.5 L949.4,272.5 L950.3,272.5 L951.2,273.9 L952.1,272.6 L952.2,271.8 L953.0,271.1 L953.9,271.0 L954.8,269.7 L955.8,270.9 L956.7,269.7 L957.6,270.0 L958.5,269.1 L959.4,268.3 L960.2,268.3 L961.2,266.6 L962.1,264.2 L963.0,262.9 L964.0,265.0 L964.9,267.0 L965.2,267.5 L965.8,268.3 L966.7,266.7 L967.6,266.9 L968.5,266.5 L969.5,267.2 L970.4,266.6 L971.3,266.0 L972.2,265.1 L973.1,265.7 L973.9,265.4 L974.9,264.9 L975.8,266.0 L976.8,266.2 L977.5,266.2 L978.6,263.1 L978.9,263.6 L979.5,263.2 L980.4,263.8 L981.3,262.9 L982.2,263.2 L983.1,262.9 L984.1,262.8 L985.0,263.1 L985.4,262.3 L985.9,263.0 L986.8,261.6 L987.7,261.4 L988.6,259.4 L989.0,260.4 L989.5,259.7 L990.5,257.4 L991.4,255.9 L991.9,255.2 L992.3,255.6 L993.2,255.5 L994.1,255.7 L994.8,255.8 L995.9,256.8 L996.9,256.4 L997.8,257.2 L998.7,257.5 L999.6,258.3 L1000.5,258.8 L1001.4,259.0 L1002.0,259.7 L1003.2,257.2 L1004.1,256.0 L1004.2,256.3 L1005.1,256.0 L1006.0,255.9 L1006.9,255.3 L1007.8,254.6 L1008.7,254.9 L1009.6,254.1 L1010.5,254.2 L1011.5,253.1 L1012.1,253.2 L1013.3,251.7 L1014.2,251.1 L1015.1,250.6 L1016.0,249.1 L1016.4,248.9 L1016.9,248.2 L1017.9,245.8 L1018.8,245.5 L1019.3,244.2 L1019.7,244.3 L1020.6,245.5 L1020.8,245.5 L1021.5,243.9 L1022.4,243.8 L1023.3,242.2 L1024.2,241.4 L1024.4,240.6 L1025.2,238.8 L1026.1,236.0 L1026.5,234.5 L1027.0,234.2 L1027.9,234.4 L1028.8,234.0 L1029.4,234.0 L1030.6,237.3 L1030.8,238.3 L1031.5,238.1 L1032.5,238.0 L1033.4,238.7 L1033.7,238.0 L1034.3,237.9 L1035.2,239.1 L1036.1,240.2 L1037.0,241.6 L1037.3,241.2 L1037.9,242.1 L1038.8,243.6 L1039.8,244.6 L1040.7,245.7 L1040.9,246.7 L1041.6,245.8 L1042.5,246.2 L1043.4,246.4 L1044.3,245.9 L1045.2,245.8 L1046.2,245.3 L1047.1,244.9 L1048.0,244.6 L1048.9,244.6 L1048.9,244.5 L1049.8,243.6 L1050.7,242.8 L1051.0,241.8 L1051.6,239.2 L1052.5,236.6 L1053.5,239.4 L1053.9,240.4 L1054.4,237.4 L1055.3,234.1 L1056.1,228.9 L1057.1,236.9 L1057.5,240.1 L1058.0,235.5 L1058.3,232.7 L1058.9,234.8 L1059.8,235.9 L1060.4,237.9 L1060.8,238.5 L1061.7,236.7 L1062.6,236.1 L1063.5,237.9 L1064.0,237.5 L1064.4,237.4 L1065.3,239.6 L1066.2,240.4 L1067.2,239.1 L1068.1,238.0 L1069.0,235.9 L1069.1,237.3 L1069.9,237.0 L1070.8,237.4 L1071.7,236.0 L1072.6,236.2 L1072.7,236.5 L1073.5,235.3 L1074.5,233.7 L1075.4,232.0 L1076.0,230.6 L1077.2,233.0 L1078.1,233.4 L1078.5,234.8 L1079.0,234.1 L1079.9,234.1 L1080.8,233.5 L1081.8,233.8 L1082.7,233.2 L1083.6,233.3 L1084.5,233.1 L1084.9,232.7 L1085.4,232.8 L1086.3,232.3 L1087.2,232.5 L1088.2,230.7 L1088.7,232.0 L1089.1,232.6 L1090.0,231.8 L1090.9,230.7 L1091.8,231.3 L1092.7,230.1 L1093.6,229.6 L1094.5,229.1 L1095.5,228.7 L1096.4,229.2 L1097.3,229.2 L1097.3,227.5 L1098.2,228.6 L1099.1,229.7 L1100.0,231.7 L1100.2,231.7 L1100.9,230.6 L1101.9,229.1 L1102.4,228.0 L1102.8,227.6 L1103.7,228.4 L1104.6,228.2 L1105.5,227.3 L1106.4,227.7 L1107.3,227.3 L1108.1,227.2 L1109.2,225.6 L1110.1,223.3 L1110.3,223.0 L1111.0,223.8 L1111.7,225.8 L1112.8,226.4 L1113.7,226.0 L1114.6,225.1 L1115.5,226.0 L1116.1,224.9 L1116.5,225.1 L1117.4,224.1 L1118.3,223.0 L1119.2,222.6 L1120.1,222.3 L1121.0,220.6 L1121.8,221.1 L1122.9,220.5 L1123.8,220.1 L1124.7,219.6 L1125.6,218.6 L1126.5,218.9 L1127.4,218.7 L1127.6,218.7 L1128.3,219.3 L1129.2,219.2 L1129.8,220.7 L1130.2,221.9 L1131.1,225.4 L1131.9,228.7 L1132.9,226.3 L1133.8,224.2 L1134.7,221.7 L1135.5,219.1 L1136.5,218.1 L1137.5,217.5 L1138.4,217.7 L1139.3,216.4 L1140.2,216.5 L1141.1,215.8 L1142.0,214.9 L1143.0,213.0 L1143.9,213.3 L1144.8,214.4 L1144.9,214.0 L1145.7,213.5 L1146.6,211.4 L1147.5,211.9 L1147.8,212.1 L1148.4,212.7 L1149.3,213.3 L1150.2,214.0 L1150.7,214.4 L1151.2,213.3 L1152.1,213.3 L1153.0,212.7 L1153.9,212.0 L1154.8,211.0 L1155.7,211.6 L1156.6,210.8 L1157.6,209.2 L1158.5,209.1 L1159.3,207.9 L1160.3,208.4 L1161.2,209.1 L1162.1,209.6 L1162.2,210.0 L1163.0,209.3 L1164.0,209.5 L1164.9,208.7 L1165.8,207.6 L1166.7,208.4 L1167.6,208.0 L1168.5,207.5 L1169.4,206.7 L1170.3,207.3 L1170.9,206.9 L1172.2,207.2 L1173.1,206.9 L1174.0,207.6 L1174.5,206.8 L1174.9,206.1 L1175.8,203.6 L1176.7,200.9 L1177.7,197.7 L1178.1,196.4 L1178.6,196.1 L1179.5,194.0 L1180.4,192.3 L1180.7,191.7 L1181.3,193.0 L1182.2,194.4 L1183.1,196.2 L1184.0,197.1 L1185.0,198.4 L1185.9,199.2 L1186.0,200.1 L1186.8,198.2 L1187.7,196.5 L1188.6,195.2 L1189.5,193.9 L1189.6,193.1 L1190.4,192.5 L1191.3,192.3 L1192.3,191.2 L1193.2,190.4 L1193.5,189.7 L1194.1,191.2 L1195.0,194.4 L1195.4,196.1 L1195.9,201.2 L1196.1,202.8 L1196.8,201.1 L1197.7,200.4 L1198.7,197.8 L1199.6,196.9 L1199.7,196.1 L1200.5,197.3 L1201.4,197.9 L1202.3,198.8" fill="none" stroke="#08bfa9" stroke-width="4.0" stroke-linejoin="miter" stroke-miterlimit="2.2" stroke-linecap="round"/>
<circle cx="1202.2" cy="199.2" r="2.6" fill="#08bfa9"/>
<rect x="152" y="201.1" width="1051" height="1.5" fill="#3ec3b5"/>
<rect x="152" y="580.4" width="1051" height="1.5" fill="#ef5b6d"/>
<rect x="151.6" y="171.6" width="113.4" height="24.5" rx="2.5" fill="#41d1c3" stroke="#3cc8ba" stroke-width="0.8"/>
<text id="pl" x="159.6" y="190" font-size="16.5" fill="#fff" stroke="#fff" stroke-width="0.3">Profit: $2,500</text>
<rect x="151.6" y="585.9" width="151.2" height="24.2" rx="2.5" fill="#fb6b7d" stroke="#f06072" stroke-width="0.8"/>
<text id="ml" x="159.4" y="603.9" font-size="16.5" fill="#fff" stroke="#fff" stroke-width="0.3">Max Loss: -$2,500</text>
<text x="91.90" y="129.0" font-size="18.3" fill="#373d3f" letter-spacing="1.500">3500</text>
<text x="92.30" y="182.1" font-size="18.3" fill="#373d3f" letter-spacing="1.167">2800</text>
<text x="96.60" y="235.2" dx="0.00 -1.14 -1.90 0.00" font-size="18.3" fill="#373d3f" letter-spacing="0.800">2100</text>
<text x="95.00" y="288.4" dx="0.00 -1.90 0.00 0.00" font-size="18.3" fill="#373d3f" letter-spacing="0.800">1400</text>
<text x="104.30" y="341.8" font-size="18.3" fill="#373d3f" letter-spacing="0.500">700</text>
<text x="125.20" y="394.9" font-size="18.3" fill="#373d3f" letter-spacing="0.500">0</text>
<text x="104.00" y="448.0" font-size="18.3" fill="#373d3f" letter-spacing="1.100">700</text>
<rect x="95.9" y="440.9" width="7" height="1.4" fill="#373d3f"/>
<text x="95.70" y="501.1" dx="0.00 -1.90 0.00 0.00" font-size="18.3" fill="#373d3f" letter-spacing="0.800">1400</text>
<rect x="88.0" y="494.0" width="7" height="1.4" fill="#373d3f"/>
<text x="95.90" y="554.0" dx="0.00 -1.14 -1.90 0.00" font-size="18.3" fill="#373d3f" letter-spacing="0.800">2100</text>
<rect x="87.6" y="546.9" width="7" height="1.4" fill="#373d3f"/>
<text x="92.20" y="607.1" font-size="18.3" fill="#373d3f" letter-spacing="1.167">2800</text>
<rect x="82.5" y="600.0" width="7" height="1.4" fill="#373d3f"/>
<text x="92.30" y="660.2" font-size="18.3" fill="#373d3f" letter-spacing="1.300">3500</text>
<rect x="83.2" y="653.1" width="7" height="1.4" fill="#373d3f"/>
<text x="145.80" y="694.8" font-size="18.3" fill="#373d3f" letter-spacing="0.500">0</text>
<text x="345.80" y="694.8" font-size="18.3" fill="#373d3f" letter-spacing="1.000">230</text>
<text x="556.10" y="694.8" font-size="18.3" fill="#373d3f" letter-spacing="1.500">460</text>
<text x="765.20" y="694.8" font-size="18.3" fill="#373d3f" letter-spacing="2.000">690</text>
<text x="976.40" y="694.8" font-size="18.3" fill="#373d3f" letter-spacing="1.000">920</text>
<text x="1183.10" y="694.8" dx="0.00 -1.76 -1.10 0.00" font-size="18.3" fill="#373d3f" letter-spacing="0.800">1150</text>
<text id="xt" x="678.1" y="726.7" text-anchor="middle" font-size="17.8" fill="#c9c9c9" letter-spacing="1.35">Number of trades</text>
<text id="yt" transform="translate(65.8,384.3) rotate(-90)" text-anchor="middle" font-size="17.8" fill="#c9c9c9" letter-spacing="1.55">Balance</text>
<g fill="none" stroke="#6b7c8c" stroke-width="2" stroke-linecap="butt">
<circle cx="1076" cy="98.8" r="9.1"/><path d="M1070.9 98.8h10.2M1076 93.7v10.2"/>
<circle cx="1106" cy="98.8" r="9.1"/><path d="M1100.8 98.8h10.6"/>
</g>
<g fill="none" stroke="#0d82e3"><circle cx="1138.7" cy="96.5" r="7.0" stroke-width="2.7"/><path d="M1135.5 96.2h6.4M1138.7 93.3v5.8" stroke-width="1.5"/><path d="M1144 102 L1151 109" stroke-width="2.9"/></g>
<path d="M1178.4 87.6 L1190.6 99.3 L1189.6 100.2 H1187.1 V109.3 H1181.3 V102 H1175.6 V109.3 H1170.1 V100.2 H1167.4 L1166.4 99.3 Z" fill="#6b7c8c"/>
<g fill="none" stroke="#6b7c8c" stroke-width="2.1" stroke-linecap="butt"><path d="M1201.2 100.5 A11.9 11.9 0 0 1 1224.8 100.5 A11.9 11.9 0 0 1 1201.2 100.5Z" stroke-linejoin="round"/><path d="M1209.86 98.06 A3.8 3.8 0 1 1 1215.52 102.78" stroke-width="1.9"/><path d="M1199.1 89.1L1225.9 111.4"/></g>
</svg>
</body></html>
